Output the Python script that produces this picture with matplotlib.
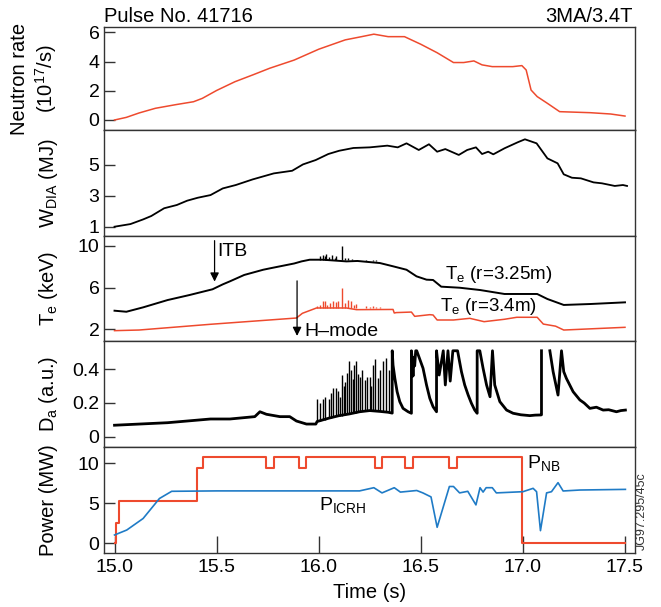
import matplotlib
matplotlib.use("Agg")
import matplotlib.pyplot as plt
import numpy as np
from matplotlib.ticker import FormatStrFormatter

plt.rcParams['font.family'] = ['Liberation Sans', 'DejaVu Sans']
plt.rcParams['mathtext.fontset'] = 'custom'
plt.rcParams['mathtext.rm'] = 'Liberation Sans'
plt.rcParams['mathtext.it'] = 'Liberation Sans:italic'
plt.rcParams['mathtext.default'] = 'regular'

RED = '#ee4a2e'
BLUE = '#1f7bc6'

# neutron rate (1e17/s)
t_neut = [15.0, 15.058, 15.12, 15.2, 15.3, 15.387, 15.43, 15.5, 15.59, 15.68, 15.76, 15.88, 16.0,
          16.13, 16.21, 16.27, 16.34, 16.42, 16.5, 16.58, 16.66, 16.71, 16.76, 16.8, 16.85,
          16.95, 16.995, 17.016, 17.04, 17.07, 17.12, 17.18, 17.33, 17.43, 17.5]
neut = [0.0, 0.18, 0.48, 0.8, 1.05, 1.25, 1.48, 2.02, 2.62, 3.1, 3.54, 4.1, 4.84,
        5.48, 5.7, 5.87, 5.7, 5.7, 5.18, 4.6, 3.93, 3.93, 4.04, 3.77, 3.65,
        3.65, 3.72, 3.42, 2.05, 1.6, 1.14, 0.57, 0.5, 0.41, 0.27]

# diamagnetic energy (MJ)
t_wdia = [15.0, 15.078, 15.14, 15.18, 15.243, 15.305, 15.356, 15.408, 15.47, 15.53, 15.594,
          15.676, 15.78, 15.87, 15.923, 15.985, 16.047, 16.1, 16.17, 16.25, 16.336, 16.387,
          16.43, 16.49, 16.54, 16.58, 16.62, 16.686, 16.727, 16.77, 16.8, 16.83, 16.855,
          16.91, 16.975, 17.01, 17.067, 17.12, 17.17, 17.2, 17.24, 17.284, 17.346, 17.387,
          17.45, 17.49, 17.51]
wdia = [1.0, 1.17, 1.47, 1.69, 2.19, 2.4, 2.68, 2.87, 3.04, 3.47, 3.69,
        4.05, 4.44, 4.61, 5.02, 5.3, 5.69, 5.9, 6.08, 6.12, 6.23, 6.12,
        6.38, 5.95, 6.32, 5.84, 6.01, 5.63, 5.95, 6.12, 5.69, 5.84, 5.67,
        6.06, 6.45, 6.64, 6.38, 5.41, 5.09, 4.38, 4.16, 4.12, 3.86, 3.8,
        3.63, 3.69, 3.63]

# electron temperature (keV)
t_te1 = [15.0, 15.058, 15.14, 15.26, 15.367, 15.48, 15.53, 15.565, 15.635, 15.728, 15.76,
         15.88, 15.916, 15.956, 16.02, 16.136, 16.19, 16.3, 16.364, 16.43, 16.479, 16.528,
         16.56, 16.6, 16.69, 16.79, 16.91, 17.07, 17.12, 17.2, 17.33, 17.5]
te1 = [3.78, 3.68, 4.1, 4.8, 5.28, 5.83, 6.3, 6.59, 7.2, 7.7, 7.83,
       8.3, 8.5, 8.66, 8.66, 8.5, 8.54, 8.34, 8.03, 7.7, 7.07, 6.75,
       6.72, 6.08, 5.98, 5.76, 5.38, 5.38, 4.9, 4.33, 4.42, 4.58]
t_te2 = [15.0, 15.12, 15.47, 15.891, 15.92, 15.989, 16.136, 16.185, 16.364, 16.37, 16.38,
         16.454, 16.47, 16.544, 16.56, 16.58, 16.66, 16.74, 16.81, 16.91, 16.97, 17.07,
         17.1, 17.16, 17.2, 17.5]
te2 = [1.87, 1.93, 2.48, 3.08, 3.53, 4.04, 4.04, 3.88, 3.9, 3.56, 3.6,
       3.65, 3.24, 3.4, 3.37, 2.89, 2.89, 3.05, 2.73, 2.96, 3.15, 3.15,
       2.5, 2.3, 1.93, 2.19]
te1_spk_t = [16.006, 16.019, 16.03, 16.038, 16.051, 16.063, 16.079, 16.087, 16.112, 16.128,
             16.144, 16.161, 16.177, 16.201, 16.234, 16.266, 16.283]
te1_spk = [8.99, 9.14, 8.99, 9.2, 8.89, 9.14, 8.82, 8.99, 9.94, 8.82,
           8.82, 8.76, 8.66, 8.66, 8.56, 8.5, 8.5]
te2_spk_t = [15.992, 16.006, 16.022, 16.03, 16.041, 16.054, 16.071, 16.084, 16.095, 16.112,
             16.128, 16.144, 16.156, 16.172, 16.185, 16.234, 16.25, 16.266, 16.283, 16.299]
te2_spk = [4.2, 4.36, 4.74, 4.68, 4.36, 4.52, 4.68, 4.61, 4.74, 5.95,
           4.52, 4.84, 4.74, 4.36, 4.42, 4.2, 4.1, 4.2, 4.1, 4.1]

# D-alpha (a.u.), nan = saturated off scale
t_da = [15.0, 15.26, 15.47, 15.565, 15.687, 15.712, 15.744, 15.81, 15.858, 15.891, 15.94,
        15.986, 15.992, 16.05, 16.1, 16.15, 16.2, 16.25, 16.3, 16.34, 16.36,
        16.36, 16.364, 16.373, 16.384, 16.397, 16.413, 16.438, 16.454,
        16.454, 16.458, 16.462, 16.466, 16.47, 16.475, 16.48, 16.511, 16.528, 16.544, 16.56, 16.577,
        16.577, 16.59, 16.61, 16.62, 16.633, 16.644, 16.657, 16.68, 16.699, 16.715, 16.732, 16.748,
        16.764, 16.776,
        16.776, 16.789, 16.805, 16.822, 16.839, 16.851, 16.862, 16.887, 16.92, 16.952, 16.99,
        17.034, 17.06, 17.088, 17.091,
        17.091, np.nan, 17.132, 17.148, 17.172, 17.189, 17.2, 17.213, 17.246, 17.279, 17.3,
        17.328, 17.36, 17.393, 17.42, 17.458, 17.48, 17.502]
da = [0.068, 0.083, 0.105, 0.105, 0.119, 0.148, 0.133, 0.119, 0.119, 0.093, 0.075,
      0.075, 0.09, 0.11, 0.125, 0.135, 0.148, 0.155, 0.15, 0.145, 0.14,
      0.51, 0.425, 0.346, 0.267, 0.208, 0.168, 0.148, 0.139,
      0.51, 0.46, 0.36, 0.47, 0.42, 0.51, 0.51, 0.406, 0.307, 0.228, 0.178, 0.148,
      0.51, 0.366, 0.51, 0.307, 0.51, 0.33, 0.51, 0.51, 0.386, 0.307, 0.247, 0.198,
      0.158, 0.139,
      0.51, 0.51, 0.406, 0.307, 0.237, 0.51, 0.307, 0.208, 0.158, 0.139, 0.13,
      0.125, 0.128, 0.129, 0.13,
      0.51, np.nan, 0.51, 0.386, 0.247, 0.51, 0.386, 0.346, 0.267, 0.218, 0.2,
      0.168, 0.175, 0.158, 0.16, 0.148, 0.155, 0.158]
elm_t = [15.992, 16.004, 16.022, 16.033, 16.05, 16.06, 16.071, 16.087, 16.095, 16.103, 16.115,
         16.122, 16.128, 16.138, 16.147, 16.16, 16.166, 16.172, 16.185, 16.193, 16.201, 16.213,
         16.226, 16.237, 16.25, 16.258, 16.266, 16.275, 16.29, 16.3, 16.313, 16.328, 16.342]
elm_top = [0.224, 0.2, 0.224, 0.235, 0.224, 0.26, 0.29, 0.29, 0.27, 0.237, 0.366,
           0.3, 0.326, 0.38, 0.449, 0.396, 0.34, 0.425, 0.449, 0.37, 0.356, 0.396,
           0.336, 0.356, 0.356, 0.3, 0.425, 0.459, 0.35, 0.396, 0.449, 0.469, 0.396]
elm_base = [0.09, 0.095, 0.1, 0.1, 0.11, 0.112, 0.115, 0.12, 0.122, 0.123, 0.125,
            0.126, 0.128, 0.132, 0.135, 0.138, 0.139, 0.14, 0.142, 0.145, 0.148, 0.15,
            0.152, 0.155, 0.155, 0.154, 0.152, 0.152, 0.151, 0.15, 0.148, 0.146, 0.145]

# heating power (MW)
t_nb = [15.0, 15.009, 15.02, 15.402, 15.435, 15.744, 15.783, 15.903, 15.94, 16.274, 16.311,
        16.422, 16.463, 16.64, 16.676, 16.995, 17.5]
p_nb = [0, 2.6, 5.25, 9.45, 10.75, 9.45, 10.75, 9.45, 10.75, 9.45, 10.75,
        9.45, 10.75, 9.45, 10.75, 0, 0]
t_icrh = [15.0, 15.06, 15.14, 15.22, 15.28, 15.5, 16.2, 16.27, 16.31, 16.37, 16.4, 16.48,
          16.51, 16.55, 16.58, 16.64, 16.66, 16.69, 16.73, 16.77, 16.79, 16.805, 16.82, 16.85,
          16.87, 17.0, 17.05, 17.067, 17.086, 17.116, 17.14, 17.172, 17.197, 17.279, 17.502]
p_icrh = [1.04, 1.66, 3.1, 5.6, 6.5, 6.55, 6.55, 6.95, 6.3, 6.95, 6.4, 6.6,
          6.3, 5.8, 2.0, 7.1, 7.1, 6.3, 6.5, 4.8, 6.95, 6.4, 6.95, 6.95,
          6.3, 6.45, 6.87, 6.45, 1.58, 6.3, 6.45, 7.58, 6.54, 6.66, 6.74]

W, H = 661, 607
fig = plt.figure(figsize=(W / 100, H / 100), dpi=100)
edges = [27.3, 130, 236, 341, 447.3, 553.3]
x0, x1 = 103.7, 635
axes = []
for i in range(5):
    ax = fig.add_axes([x0 / W, 1 - edges[i + 1] / H, (x1 - x0) / W, (edges[i + 1] - edges[i]) / H])
    ax.set_xlim(14.947, 17.549)
    for s in ax.spines.values():
        s.set_color('#333333')
        s.set_linewidth(1.0)
    ax.tick_params(axis='y', direction='in', length=8, width=1, pad=3, labelsize=14, color='#333333')
    ax.tick_params(axis='x', bottom=False, labelbottom=False)
    axes.append(ax)

ax1, ax2, ax3, ax4, ax5 = axes

ax1.plot(t_neut, neut, color=RED, lw=1.1)
ax1.set_ylim(-0.684, 6.34)
ax1.set_yticks([0, 2, 4, 6])

ax2.plot(t_wdia, wdia, color='black', lw=1.3)
ax2.set_ylim(0.4, 7.24)
ax2.set_yticks([1, 3, 5])

ax3.plot(t_te1, te1, color='black', lw=1.4)
ax3.vlines(te1_spk_t, 8.6, te1_spk, color='black', lw=1)
ax3.plot(t_te2, te2, color=RED, lw=1.1)
ax3.vlines(te2_spk_t, 4.0, te2_spk, color=RED, lw=1)
ax3.set_ylim(0.88, 10.93)
ax3.set_yticks([2, 6, 10])
ax3.annotate('', xy=(15.49, 6.3), xytext=(15.49, 10.75),
             arrowprops=dict(arrowstyle='-|>', color='black', lw=0.9, mutation_scale=13))
ax3.text(15.505, 9.43, 'ITB', fontsize=14, va='center', ha='left')
ax3.annotate('', xy=(15.894, 1.1), xytext=(15.894, 6.9),
             arrowprops=dict(arrowstyle='-|>', color='black', lw=0.9, mutation_scale=13))
ax3.text(15.929, 1.77, 'H\u2013mode', fontsize=14, va='center', ha='left')
ax3.text(16.617, 7.2, 'T$_e$ (r=3.25m)', fontsize=13.5, va='center', ha='left')
ax3.text(16.596, 4.16, 'T$_e$ (r=3.4m)', fontsize=13.5, va='center', ha='left')

ax4.plot(t_da, da, color='black', lw=2.0)
ax4.vlines(elm_t, elm_base, elm_top, color='black', lw=1)
ax4.set_ylim(-0.063, 0.568)
ax4.set_yticks([0, 0.2, 0.4])
ax4.set_yticklabels(['0', '0.2', '0.4'])

ax5.plot(t_nb, p_nb, color=RED, lw=1.5, drawstyle='steps-post')
ax5.plot(t_icrh, p_icrh, color=BLUE, lw=1.2)
ax5.set_ylim(-1.25, 12.0)
ax5.set_yticks([0, 5, 10])
ax5.set_xticks([15.0, 15.5, 16.0, 16.5, 17.0, 17.5])
ax5.xaxis.set_major_formatter(FormatStrFormatter('%.1f'))
ax5.tick_params(axis='x', bottom=True, labelbottom=True, direction='in', length=12,
                width=1, pad=4, labelsize=14, color='#333333')
ax5.set_xlabel('Time (s)', fontsize=14.5, labelpad=5)
ax5.text(17.018, 10.0, 'P$_{NB}$', fontsize=14, va='center', ha='left')
ax5.text(16.001, 4.8, 'P$_{ICRH}$', fontsize=14, va='center', ha='left')

# titles and y labels
fig.text(x0 / W, 1 - 21.7 / H, 'Pulse No. 41716', fontsize=14.5, ha='left', va='baseline')
fig.text(632.4 / W, 1 - 21.7 / H, '3MA/3.4T', fontsize=14.5, ha='right', va='baseline')
centers = [(edges[i] + edges[i + 1]) / 2 for i in range(5)]
fig.text(20 / W, 1 - centers[0] / H, 'Neutron rate', rotation=90, fontsize=14.5, ha='center', va='center')
fig.text(46 / W, 1 - centers[0] / H, '(10$^{17}$/s)', rotation=90, fontsize=14.5, ha='center', va='center')
ylabels = ['W$_{DIA}$ (MJ)', 'T$_e$ (keV)', 'D$_a$ (a.u.)', 'Power (MW)']
for lab, c in zip(ylabels, centers[1:]):
    fig.text(48 / W, 1 - c / H, lab, rotation=90, fontsize=14.5, ha='center', va='center')
fig.text(642 / W, 1 - 511 / H, 'JG97.295/45c', rotation=90, fontsize=9, ha='center', va='center', color='#333333')

fig.savefig('out.png', dpi=100)
